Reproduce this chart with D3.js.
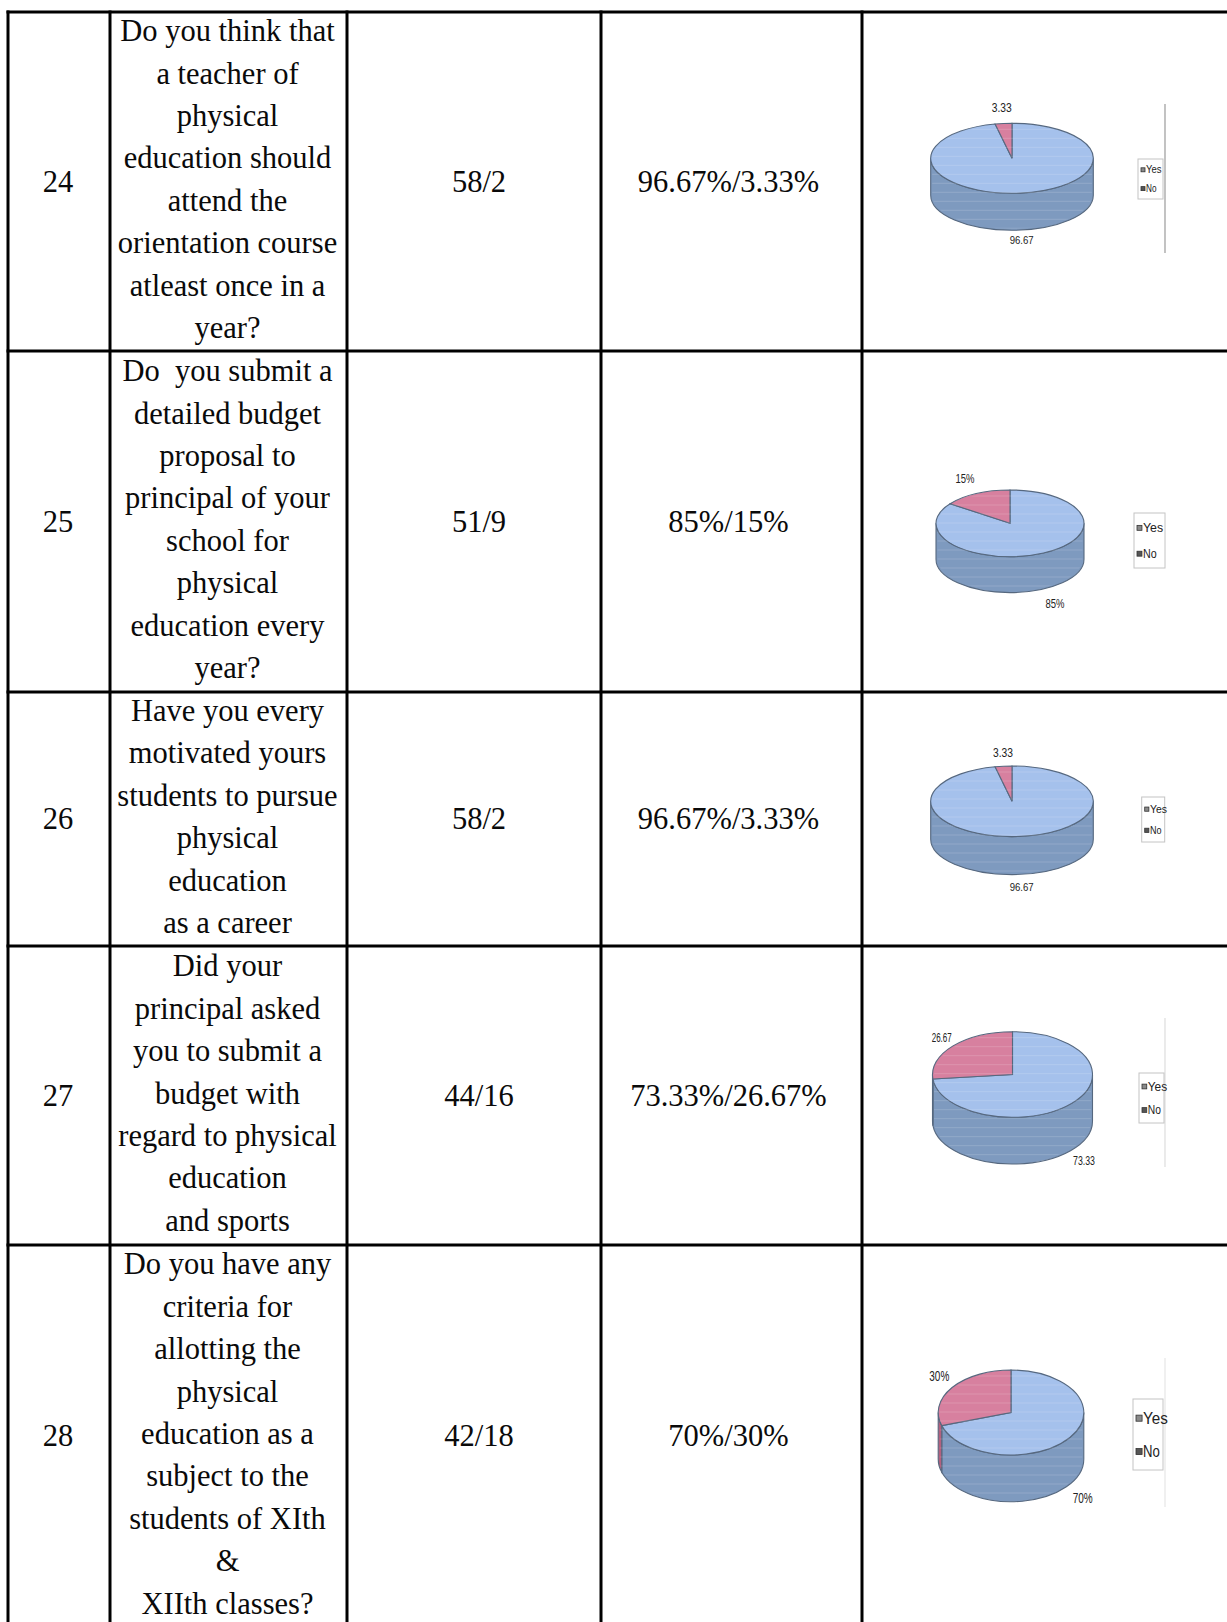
<!DOCTYPE html>
<html>
<head>
<meta charset="utf-8">
<script src="https://cdn.jsdelivr.net/npm/d3@7"></script>
<style>
  html, body { margin: 0; padding: 0; background: #fff; }
  svg { display: block; }
  .cell-text { font-family: "Liberation Serif", "Times New Roman", serif; font-size: 30.5px; fill: #0a0a0a; white-space: pre; }
  .pie-label, .legend-text { font-family: "Liberation Sans Narrow", "Arial Narrow", "Liberation Sans", sans-serif; fill: #222; }
</style>
</head>
<body>
<svg id="chart" width="1227" height="1622"></svg>
<script>
// ---------------- DATA ----------------
const rowNumbers = ["24", "25", "26", "27", "28"];
const questions = [
  ["Do you think that", "a teacher of", "physical", "education should", "attend the", "orientation course", "atleast once in a", "year?"],
  ["Do  you submit a", "detailed budget", "proposal to", "principal of your", "school for", "physical", "education every", "year?"],
  ["Have you every", "motivated yours", "students to pursue", "physical", "education", "as a career"],
  ["Did your", "principal asked", "you to submit a", "budget with", "regard to physical", "education", "and sports"],
  ["Do you have any", "criteria for", "allotting the", "physical", "education as a", "subject to the", "students of XIth", "&", "XIIth classes?"]
];
const counts = ["58/2", "51/9", "58/2", "44/16", "42/18"];
const percentTexts = ["96.67%/3.33%", "85%/15%", "96.67%/3.33%", "73.33%/26.67%", "70%/30%"];
const yesValues = [96.67, 85, 96.67, 73.33, 70];
const noValues = [3.33, 15, 3.33, 26.67, 30];
const yesLabels = ["96.67", "85%", "96.67", "73.33", "70%"];
const noLabels = ["3.33", "15%", "3.33", "26.67", "30%"];
const legendLabels = ["Yes", "No"];

// ---------------- LAYOUT ----------------
const W = 1227, H = 1622;
const colX = [8, 110, 347, 601, 862, 1240];
const rowY = [12, 351, 692, 946, 1245, 1627];
const lineStep = 42.4;

const pieLayout = [
  {cx: 1012, cy: 158.3, rx: 81.3, ry: 35, depth: 37, noL: [1001.7, 108, 12.5, 20], yesL: [1021.7, 240, 11, 24],
   legend: [1138, 159, 25, 40, 10], frame: [104, 253, "#9a9a9a"]},
  {cx: 1010, cy: 523.3, rx: 74, ry: 33.3, depth: 36, noL: [965, 478, 13, 19], yesL: [1055, 603, 13, 19],
   legend: [1134, 513, 31, 55, 13], frame: null},
  {cx: 1012, cy: 801.3, rx: 81.3, ry: 35.3, depth: 38, noL: [1003, 753, 12.5, 20], yesL: [1021.7, 886.7, 11, 24],
   legend: [1141.7, 797, 23, 45, 11], frame: null},
  {cx: 1012.5, cy: 1074.5, rx: 80, ry: 42.8, depth: 46.7, noL: [941.7, 1037, 13, 20], yesL: [1084, 1160, 13, 22],
   legend: [1139, 1073, 25, 50, 12.5], frame: [1018, 1167, "#dddddd"]},
  {cx: 1011, cy: 1412.5, rx: 72.8, ry: 42.5, depth: 46.7, noL: [939.3, 1375, 15, 20], yesL: [1082.7, 1497.3, 15, 20],
   legend: [1133, 1399, 30, 71, 16], frame: [1358, 1507, "#e6e6e6"]}
];

const topColors = {Yes: "#a5c1ec", No: "#d7809f"};
const sideColors = {Yes: "#7e9abf", No: "#b3617f"};
const outline = "#56687f";

// ---------------- DRAW ----------------
const svg = d3.select("#chart");
svg.append("rect").attr("width", W).attr("height", H).attr("fill", "#fff");

// table text
rowNumbers.forEach((num, r) => {
  const yc = (rowY[r] + rowY[r + 1]) / 2;
  const g = svg.append("g");
  g.append("text").attr("class", "cell-text").attr("text-anchor", "middle")
    .attr("x", (colX[0] + colX[1]) / 2 - 1).attr("y", yc + 10).text(num);
  const lines = questions[r];
  g.selectAll("text.q").data(lines).join("text")
    .attr("class", "cell-text q").attr("text-anchor", "middle")
    .attr("x", (colX[1] + colX[2]) / 2 - 1)
    .attr("y", (d, i) => yc - 2 + (i - (lines.length - 1) / 2) * lineStep + 10)
    .text(d => d);
  g.append("text").attr("class", "cell-text").attr("text-anchor", "middle")
    .attr("x", (colX[2] + colX[3]) / 2 + 5).attr("y", yc + 10).text(counts[r]);
  g.append("text").attr("class", "cell-text").attr("text-anchor", "middle")
    .attr("x", (colX[3] + colX[4]) / 2 - 3).attr("y", yc + 10).text(percentTexts[r]);
});

// pies
const pie = d3.pie().sort(null).value(d => d.value);
pieLayout.forEach((L, r) => {
  const data = [{key: "Yes", value: yesValues[r]}, {key: "No", value: noValues[r]}];
  const arcs = pie(data);
  const k = L.ry / L.rx;
  const D = L.depth / k;
  const R = L.rx;
  const clipId = "clip" + r;

  if (L.frame) {
    svg.append("line").attr("x1", 1165).attr("x2", 1165).attr("y1", L.frame[0]).attr("y2", L.frame[1])
      .attr("stroke", L.frame[2]).attr("stroke-width", 1.2);
  }

  const g = svg.append("g").attr("transform", `translate(${L.cx},${L.cy}) scale(1,${k})`);

  const sidePath = a => {
    const a0 = Math.max(a.startAngle, Math.PI / 2), a1 = Math.min(a.endAngle, 3 * Math.PI / 2);
    if (a0 >= a1) return null;
    const p = d3.path();
    p.moveTo(R * Math.sin(a0), -R * Math.cos(a0));
    p.arc(0, 0, R, a0 - Math.PI / 2, a1 - Math.PI / 2, false);
    p.lineTo(R * Math.sin(a1), -R * Math.cos(a1) + D);
    p.arc(0, D, R, a1 - Math.PI / 2, a0 - Math.PI / 2, true);
    p.closePath();
    return p.toString();
  };
  g.selectAll("path.side").data(arcs.filter(a => sidePath(a))).join("path")
    .attr("class", "side")
    .attr("d", sidePath)
    .attr("fill", a => sideColors[a.data.key])
    .attr("stroke", outline).attr("stroke-width", 1.1)
    .attr("vector-effect", "non-scaling-stroke");

  const arcGen = d3.arc().innerRadius(0).outerRadius(R);
  g.selectAll("path.top").data(arcs).join("path")
    .attr("class", "top")
    .attr("d", arcGen)
    .attr("fill", a => topColors[a.data.key])
    .attr("stroke", outline).attr("stroke-width", 1.1)
    .attr("vector-effect", "non-scaling-stroke");

  // faint scan stripes, kept inside the cylinder outline
  const clip = svg.append("clipPath").attr("id", clipId);
  clip.append("ellipse").attr("cx", L.cx).attr("cy", L.cy).attr("rx", L.rx - 1.5).attr("ry", L.ry - 1.5);
  clip.append("rect").attr("x", L.cx - L.rx + 1.5).attr("y", L.cy).attr("width", 2 * L.rx - 3).attr("height", L.depth);
  clip.append("ellipse").attr("cx", L.cx).attr("cy", L.cy + L.depth).attr("rx", L.rx - 1.5).attr("ry", L.ry - 1.5);
  const stripeYs = d3.range(L.cy - L.ry + 6, L.cy + L.depth + L.ry, 9);
  svg.append("g").attr("clip-path", `url(#${clipId})`)
    .selectAll("line").data(stripeYs).join("line")
    .attr("x1", L.cx - L.rx).attr("x2", L.cx + L.rx)
    .attr("y1", d => d).attr("y2", d => d)
    .attr("stroke", "#ffffff").attr("stroke-opacity", 0.16).attr("stroke-width", 1);

  // data labels
  const lbl = [[noLabels[r], L.noL], [yesLabels[r], L.yesL]];
  lbl.forEach(([t, p]) => {
    svg.append("text").attr("class", "pie-label")
      .attr("x", p[0] - p[3] / 2).attr("y", p[1]).attr("dominant-baseline", "central")
      .attr("font-size", p[2]).attr("textLength", p[3]).attr("lengthAdjust", "spacingAndGlyphs")
      .text(t);
  });

  // legend
  const [lx, ly, lw, lh, fs] = L.legend;
  const lg = svg.append("g");
  lg.append("rect").attr("x", lx).attr("y", ly).attr("width", lw).attr("height", lh)
    .attr("fill", "#fff").attr("stroke", "#c4c4c4").attr("stroke-width", 1);
  const sw = Math.max(4, fs * 0.38);
  legendLabels.forEach((name, i) => {
    const yy = ly + lh * (i === 0 ? 0.27 : 0.74);
    lg.append("rect").attr("x", lx + 3).attr("y", yy - sw / 2).attr("width", sw).attr("height", sw)
      .attr("fill", i === 0 ? "#8a8a8a" : "#555").attr("stroke", "#333").attr("stroke-width", 0.8);
    lg.append("text").attr("class", "legend-text")
      .attr("x", lx + 4 + sw).attr("y", yy).attr("dominant-baseline", "central")
      .attr("font-size", fs)
      .attr("textLength", name === "Yes" ? fs * 1.55 : fs * 1.05).attr("lengthAdjust", "spacingAndGlyphs")
      .text(name);
  });
});

// grid lines
const gridG = svg.append("g").attr("stroke", "#000").attr("stroke-width", 3);
gridG.selectAll("line.h").data(rowY).join("line").attr("class", "h")
  .attr("x1", colX[0] - 1.5).attr("x2", W + 10).attr("y1", d => d).attr("y2", d => d);
gridG.selectAll("line.v").data(colX.slice(0, 5)).join("line").attr("class", "v")
  .attr("x1", d => d).attr("x2", d => d).attr("y1", rowY[0] - 1.5).attr("y2", H + 10);
</script>
</body>
</html>
